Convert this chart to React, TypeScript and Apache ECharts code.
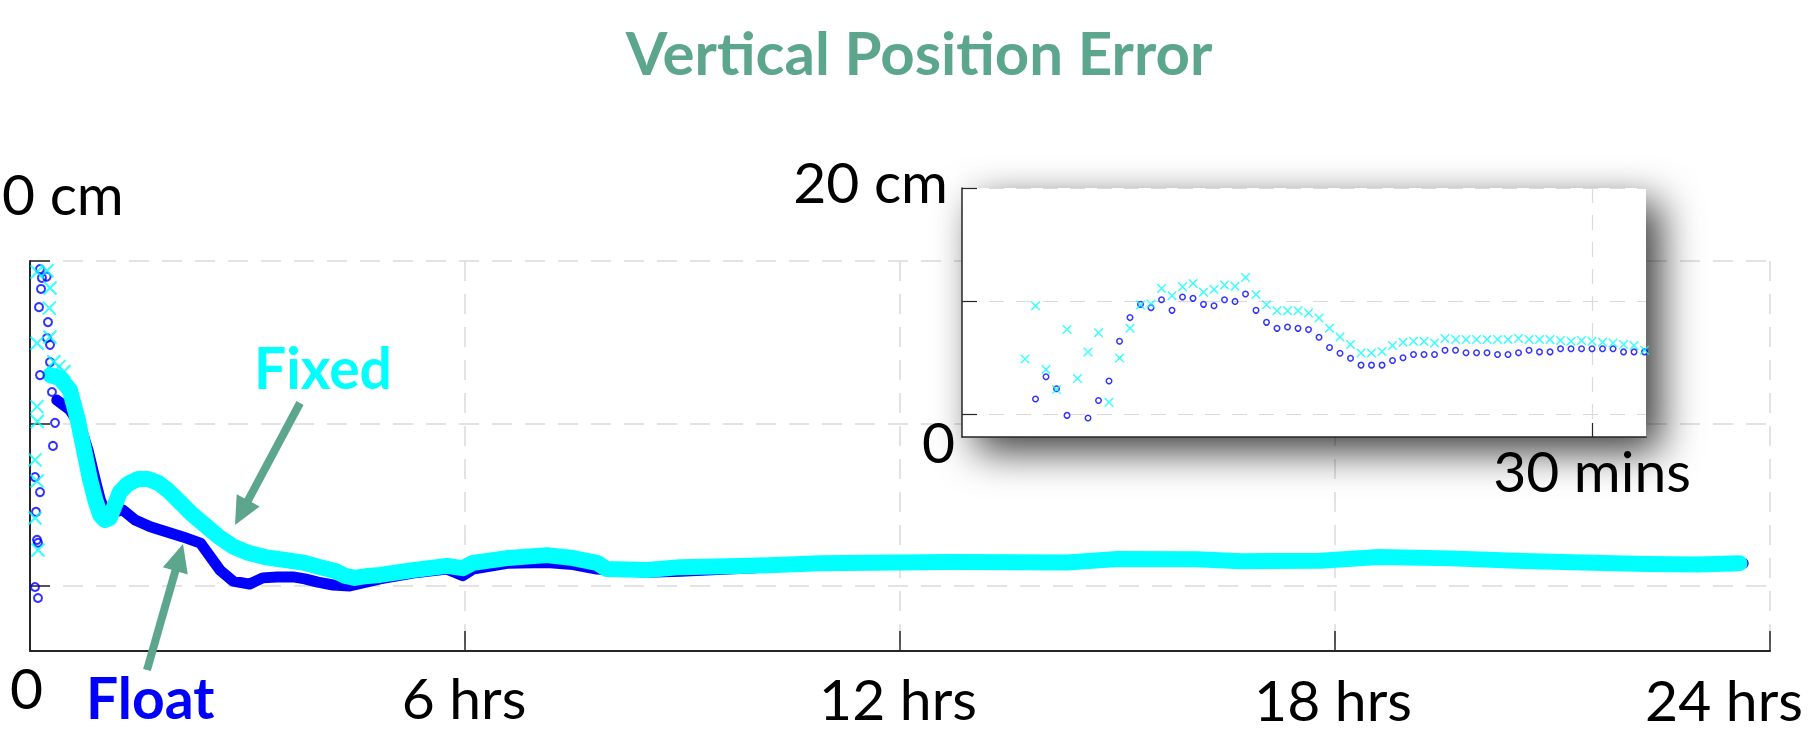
import React, { useEffect, useRef } from 'react';
import * as echarts from 'echarts';

// ---------- data ----------
// main chart: hours vs vertical error (cm)
const mainTickHours = [0, 6, 12, 18, 24];
const mainTickLabels = ['6 hrs', '12 hrs', '18 hrs', '24 hrs'];
const mainYTicks = [0, 5, 10];

const floatTrack = [
  [0.37, 5.72], [0.55, 5.42], [0.69, 4.95], [0.8, 4.18], [0.9, 3.26], [0.97, 2.65], [1.06, 2.18],
  [1.17, 2.28], [1.28, 2.34], [1.45, 2.03], [1.66, 1.82], [1.89, 1.66], [2.11, 1.51], [2.35, 1.32],
  [2.48, 0.92], [2.62, 0.49], [2.8, 0.15], [3.03, 0.06], [3.21, 0.25], [3.41, 0.28], [3.63, 0.28],
  [3.79, 0.22], [3.97, 0.12], [4.18, 0.03], [4.41, 0.0], [4.83, 0.22], [5.28, 0.4], [5.75, 0.52],
  [5.97, 0.32], [6.11, 0.52], [6.58, 0.7], [7.13, 0.72], [7.49, 0.66], [7.82, 0.52], [8.51, 0.42],
  [8.97, 0.45], [9.93, 0.55], [10.9, 0.7], [12.7, 0.76], [14.3, 0.72], [15.0, 0.8], [16.1, 0.8],
  [16.7, 0.74], [17.8, 0.76], [18.6, 0.86], [19.6, 0.8], [20.6, 0.76], [21.4, 0.74], [22.3, 0.68],
  [23.0, 0.66], [23.63, 0.7],
];

const fixedTrack = [
  [0.28, 6.49], [0.41, 6.4], [0.55, 6.03], [0.66, 5.11], [0.76, 4.03], [0.83, 3.26], [0.9, 2.65],
  [0.97, 2.18], [1.03, 2.03], [1.1, 2.09], [1.17, 2.49], [1.24, 2.89], [1.35, 3.14], [1.49, 3.29],
  [1.63, 3.29], [1.77, 3.17], [1.9, 2.95], [2.07, 2.58], [2.23, 2.22], [2.41, 1.88], [2.59, 1.54],
  [2.79, 1.23], [3.01, 1.02], [3.24, 0.89], [3.52, 0.8], [3.79, 0.71], [4.0, 0.58], [4.21, 0.46],
  [4.35, 0.31], [4.48, 0.25], [4.66, 0.31], [4.83, 0.34], [5.28, 0.49], [5.75, 0.62], [5.97, 0.55],
  [6.11, 0.71], [6.58, 0.86], [7.13, 0.95], [7.49, 0.86], [7.82, 0.71], [7.96, 0.52], [8.51, 0.49],
  [8.97, 0.58], [9.93, 0.62], [10.9, 0.7], [12.7, 0.74], [14.3, 0.72], [15.0, 0.83], [16.1, 0.82],
  [16.7, 0.76], [17.8, 0.78], [18.6, 0.89], [19.6, 0.85], [20.6, 0.77], [21.4, 0.72], [22.3, 0.68],
  [23.0, 0.66], [23.58, 0.7],
];

const floatEarly = [
  [0.138, 9.75], [0.165, 9.48], [0.23, 9.52], [0.152, 9.14], [0.124, 8.58], [0.248, 8.12], [0.234, 7.63],
  [0.276, 7.42], [0.138, 6.49], [0.276, 6.89], [0.303, 5.97], [0.345, 5.02], [0.317, 4.31],
  [0.069, 3.35], [0.138, 2.89], [0.083, 2.28], [0.097, 1.42], [0.11, 1.33], [0.069, -0.03], [0.11, -0.37],
];

const fixedEarly = [
  [0.097, 9.66], [0.234, 9.7], [0.276, 9.17], [0.266, 8.55], [0.097, 7.47], [0.276, 7.66],
  [0.097, 5.52], [0.1, 5.06], [0.069, 3.88], [0.097, 3.23], [0.069, 2.09], [0.11, 1.11],
  [0.33, 6.9], [0.4, 6.75], [0.47, 6.6],
];

// inset: minutes vs vertical error (cm), one epoch every 30 s
const insetTickMinutes = [30];
const insetYTicks = [0, 10, 20];
const insetMinutes = [
  3.0, 3.5, 4.0, 4.5, 5.0, 5.5, 6.0, 6.5, 7.0, 7.5, 8.0, 8.5, 9.0, 9.5, 10.0, 10.5, 11.0, 11.5, 12.0, 12.5,
  13.0, 13.5, 14.0, 14.5, 15.0, 15.5, 16.0, 16.5, 17.0, 17.5, 18.0, 18.5, 19.0, 19.5, 20.0, 20.5, 21.0, 21.5,
  22.0, 22.5, 23.0, 23.5, 24.0, 24.5, 25.0, 25.5, 26.0, 26.5, 27.0, 27.5, 28.0, 28.5, 29.0, 29.5, 30.0, 30.5,
  31.0, 31.5, 32.0, 32.5,
];
const insetFloat = [
  null, 1.35, 3.32, 2.26, -0.09, null, -0.32, 1.23, 2.94, 6.46, 8.55, 9.72, 9.43, 10.13, 9.19, 10.37, 10.25,
  9.72, 9.6, 10.13, 9.98, 10.63, 9.19, 8.13, 7.6, 7.72, 7.6, 7.49, 6.81, 5.9, 5.4, 4.96, 4.35, 4.35, 4.35,
  4.76, 5.0, 5.29, 5.29, 5.29, 5.67, 5.67, 5.44, 5.44, 5.44, 5.29, 5.29, 5.44, 5.67, 5.52, 5.52, 5.79, 5.79,
  5.79, 5.79, 5.79, 5.79, 5.52, 5.52, 5.52,
];
const insetFixed = [
  4.9, 9.6, 3.96, 2.2, 7.49, 3.17, 5.52, 7.22, 1.06, 4.99, 7.6, 9.66, 9.75, 11.13, 10.48, 11.28, 11.57, 10.78,
  11.04, 11.43, 11.31, 12.1, 10.6, 9.69, 9.16, 9.16, 9.16, 8.96, 8.52, 7.61, 6.84, 6.17, 5.43, 5.43, 5.55,
  6.08, 6.37, 6.46, 6.46, 6.31, 6.7, 6.61, 6.61, 6.61, 6.61, 6.61, 6.61, 6.7, 6.61, 6.61, 6.61, 6.52, 6.46,
  6.52, 6.46, 6.37, 6.31, 6.17, 6.08, 5.67,
];

// ---------- styling ----------
const FONT = 'Lato, "Noto Sans", sans-serif';
const GRID_COLOR = '#dadada';
const AXIS_COLOR = '#262626';
const TEAL = '#5BA68C';
const BLUE = '#0000FF';
const CYAN = '#00FFFF';
const CROSS = 'path://M0,0L10,10M10,0L0,10';

function text(str: string, x: number, y: number, size: number, fill: string, align: string, bold = false) {
  return {
    type: 'text',
    x,
    y,
    z: 30,
    silent: true,
    style: {
      text: str,
      fill,
      fontSize: size,
      fontFamily: FONT,
      fontWeight: bold ? 'bold' : 'normal',
      align,
      textAlign: align,
      verticalAlign: 'middle',
      textVerticalAlign: 'middle',
    },
  };
}

function arrow(x1: number, y1: number, x2: number, y2: number, headLen: number, headW: number) {
  const dx = x2 - x1;
  const dy = y2 - y1;
  const L = Math.hypot(dx, dy);
  const ux = dx / L;
  const uy = dy / L;
  const bx = x2 - ux * headLen;
  const by = y2 - uy * headLen;
  const px = -uy;
  const py = ux;
  return [
    {
      type: 'line',
      z: 30,
      silent: true,
      shape: { x1, y1, x2: bx + ux * 3, y2: by + uy * 3 },
      style: { stroke: TEAL, lineWidth: 8 },
    },
    {
      type: 'polygon',
      z: 30,
      silent: true,
      shape: {
        points: [
          [x2, y2],
          [bx + (px * headW) / 2, by + (py * headW) / 2],
          [bx - (px * headW) / 2, by - (py * headW) / 2],
        ],
      },
      style: { fill: TEAL },
    },
  ];
}

function buildOption() {
  const dashed = (w: number, dash: number[]) => ({ color: GRID_COLOR, width: w, type: dash });
  const pairs = (ys: (number | null)[]) =>
    insetMinutes.map((t, i) => (ys[i] == null ? null : [t, ys[i] as number])).filter((p) => p !== null);

  const labelY = [697, 698, 699, 699];
  const labelX = [464, 898, 1333, 1724];

  return {
    animation: false,
    backgroundColor: '#ffffff',
    grid: [
      { left: 30, top: 261, width: 1740, height: 390, containLabel: false },
      { left: 962, top: 188, width: 684, height: 249, containLabel: false },
    ],
    xAxis: [
      {
        gridIndex: 0,
        type: 'value',
        min: mainTickHours[0],
        max: mainTickHours[mainTickHours.length - 1],
        interval: 6,
        axisLine: { show: true, onZero: false, lineStyle: { color: AXIS_COLOR, width: 2 } },
        axisTick: { show: true, inside: true, length: 20, lineStyle: { color: AXIS_COLOR, width: 1.5 } },
        axisLabel: { show: false },
        splitLine: { show: true, lineStyle: dashed(1.5, [20, 13]) },
      },
      {
        gridIndex: 1,
        type: 'value',
        min: 0,
        max: 32.57,
        z: 6,
        axisLine: { show: true, onZero: false, lineStyle: { color: AXIS_COLOR, width: 1.5 } },
        axisTick: {
          show: true,
          customValues: insetTickMinutes,
          inside: true,
          length: 14,
          lineStyle: { color: AXIS_COLOR, width: 1.2 },
        },
        axisLabel: { show: false, customValues: insetTickMinutes },
        splitLine: { show: true, lineStyle: dashed(1.2, [15, 12]) },
      },
    ],
    yAxis: [
      {
        gridIndex: 0,
        type: 'value',
        min: -2,
        max: 10,
        axisLine: { show: true, onZero: false, lineStyle: { color: AXIS_COLOR, width: 2 } },
        axisTick: {
          show: true,
          customValues: mainYTicks,
          inside: true,
          length: 20,
          lineStyle: { color: AXIS_COLOR, width: 1.5 },
        },
        axisLabel: { show: false, customValues: mainYTicks },
        splitLine: { show: true, lineStyle: dashed(1.5, [20, 13]) },
      },
      {
        gridIndex: 1,
        type: 'value',
        min: -2,
        max: 20,
        z: 6,
        axisLine: { show: true, onZero: false, lineStyle: { color: AXIS_COLOR, width: 1.5 } },
        axisTick: {
          show: true,
          customValues: insetYTicks,
          inside: true,
          length: 15,
          lineStyle: { color: AXIS_COLOR, width: 1.2 },
        },
        axisLabel: { show: false, customValues: insetYTicks },
        splitLine: { show: true, lineStyle: dashed(1.2, [15, 12]) },
      },
    ],
    series: [
      {
        name: 'Float',
        type: 'line',
        xAxisIndex: 0,
        yAxisIndex: 0,
        data: floatTrack,
        symbol: 'none',
        silent: true,
        z: 2,
        lineStyle: { color: BLUE, width: 11, cap: 'round', join: 'round' },
      },
      {
        name: 'Fixed',
        type: 'line',
        xAxisIndex: 0,
        yAxisIndex: 0,
        data: fixedTrack,
        symbol: 'none',
        silent: true,
        z: 3,
        lineStyle: { color: CYAN, width: 16, cap: 'round', join: 'round' },
      },
      {
        name: 'Float early',
        type: 'scatter',
        xAxisIndex: 0,
        yAxisIndex: 0,
        data: floatEarly,
        symbol: 'circle',
        symbolSize: 8,
        silent: true,
        z: 4,
        itemStyle: { color: 'rgba(0,0,0,0)', borderColor: BLUE, borderWidth: 2 },
      },
      {
        name: 'Fixed early',
        type: 'scatter',
        xAxisIndex: 0,
        yAxisIndex: 0,
        data: fixedEarly,
        symbol: CROSS,
        symbolSize: 13,
        silent: true,
        z: 4,
        itemStyle: { color: CYAN, borderColor: CYAN, borderWidth: 2 },
      },
      {
        name: 'Float inset',
        type: 'scatter',
        xAxisIndex: 1,
        yAxisIndex: 1,
        data: pairs(insetFloat),
        symbol: 'circle',
        symbolSize: 5.5,
        silent: true,
        z: 8,
        itemStyle: { color: 'rgba(0,0,0,0)', borderColor: BLUE, borderWidth: 1.5 },
      },
      {
        name: 'Fixed inset',
        type: 'scatter',
        xAxisIndex: 1,
        yAxisIndex: 1,
        data: pairs(insetFixed),
        symbol: CROSS,
        symbolSize: 8.5,
        silent: true,
        z: 8,
        itemStyle: { color: CYAN, borderColor: CYAN, borderWidth: 1.4 },
      },
    ],
    graphic: {
      elements: [
        {
          type: 'rect',
          z: 5,
          silent: true,
          shape: { x: 962, y: 188, width: 684, height: 249 },
          style: {
            fill: '#ffffff',
            shadowBlur: 40,
            shadowOffsetX: 14,
            shadowOffsetY: 14,
            shadowColor: 'rgba(0,0,0,0.78)',
          },
        },
        text('Vertical Position Error', 919, 52, 60, TEAL, 'center', true),
        text('0 cm', 2, 193, 57, '#000000', 'left'),
        text('0', 10, 687, 57, '#000000', 'left'),
        text('Float', 86, 697, 57, BLUE, 'left', true),
        text('Fixed', 254, 367, 57, CYAN, 'left', true),
        ...mainTickLabels.map((s, i) => text(s, labelX[i], labelY[i], 57, '#000000', 'center')),
        text('20 cm', 948, 181, 57, '#000000', 'right'),
        text('0', 922, 441, 57, '#000000', 'left'),
        text('30 mins', 1592, 470, 57, '#000000', 'center'),
        ...arrow(300, 403, 235, 525, 28, 26),
        ...arrow(147, 670, 183, 544, 28, 26),
      ],
    },
  };
}

export default function App() {
  const ref = useRef<HTMLDivElement>(null);
  useEffect(() => {
    if (!ref.current) return;
    const chart = echarts.init(ref.current, undefined, { renderer: 'svg' });
    chart.setOption(buildOption() as any);
    return () => chart.dispose();
  }, []);
  return (
    <div
      ref={ref}
      style={{ position: 'absolute', left: 0, top: 0, width: 1808, height: 732, background: '#ffffff' }}
    />
  );
}
